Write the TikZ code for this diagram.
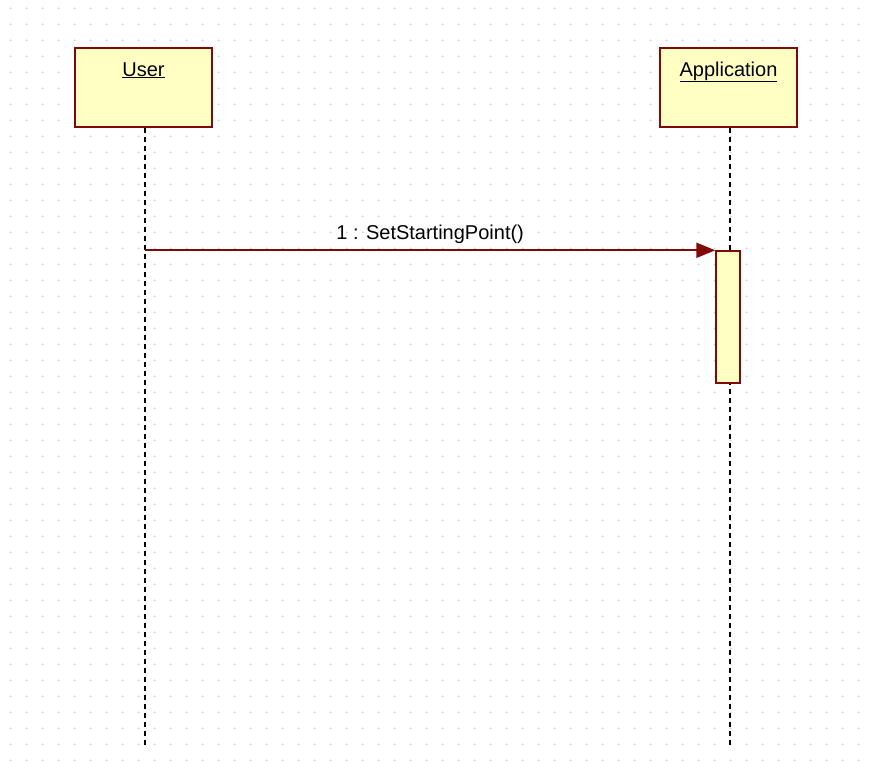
\documentclass[tikz,border=0pt]{standalone}
\usepackage{fontspec}
\setmainfont{Liberation Sans}
\usepackage{tikz}
\usetikzlibrary{positioning,calc,arrows.meta}

\definecolor{umlred}{RGB}{128,10,10}
\definecolor{umlfill}{RGB}{255,255,196}
\definecolor{griddot}{RGB}{205,205,205}

\tikzset{
  objbox/.style={draw=umlred, fill=umlfill, line width=1.8pt, minimum width=137pt, minimum height=79pt, inner sep=0pt},
  actbox/.style={draw=umlred, fill=umlfill, line width=1.4pt, minimum width=24pt, minimum height=132pt, inner sep=0pt},
  lifeline/.style={black, line width=1.3pt, dash pattern=on 5pt off 4pt},
  msg/.style={umlred, line width=2pt, -{Triangle[length=19pt,width=15pt]}},
  umltext/.style={text=black, font=\fontsize{20}{24}\selectfont, inner sep=0pt}
}

\begin{document}
\begin{tikzpicture}[x=1pt, y=-1pt]
    \useasboundingbox (0,0) rectangle (870,776);

    % Grid of dots
    \foreach \i in {0,...,53}
      \foreach \j in {0,...,47}
        \fill[griddot] (10.7+16*\i, 8.3+16*\j) circle (1);

    % Objects
    \node[objbox] (user) at (143.5,87.5) {};
    \node[objbox] (app) at (728.5,87.5) {};
    \node[umltext, anchor=base] (userlbl) at ($(user.north)+(0,29)$) {\underline{User}};
    \node[umltext, anchor=base] (applbl) at ($(app.north)+(0,29)$) {\underline{Application}};

    % Lifelines
    \coordinate (userend) at (145,747);
    \coordinate (append) at (730,747);
    \draw[lifeline] (user.south -| userend) -- (userend);
    \draw[lifeline] (app.south -| append) -- (append);

    % Activation
    \node[actbox] (act) at (728,317) {};

    % Message
    \draw[msg] (userend |- act.north) -- (act.north west)
      node[umltext, midway, anchor=base, yshift=11pt] (msglbl) {1 : SetStartingPoint()};
\end{tikzpicture}
\end{document}
